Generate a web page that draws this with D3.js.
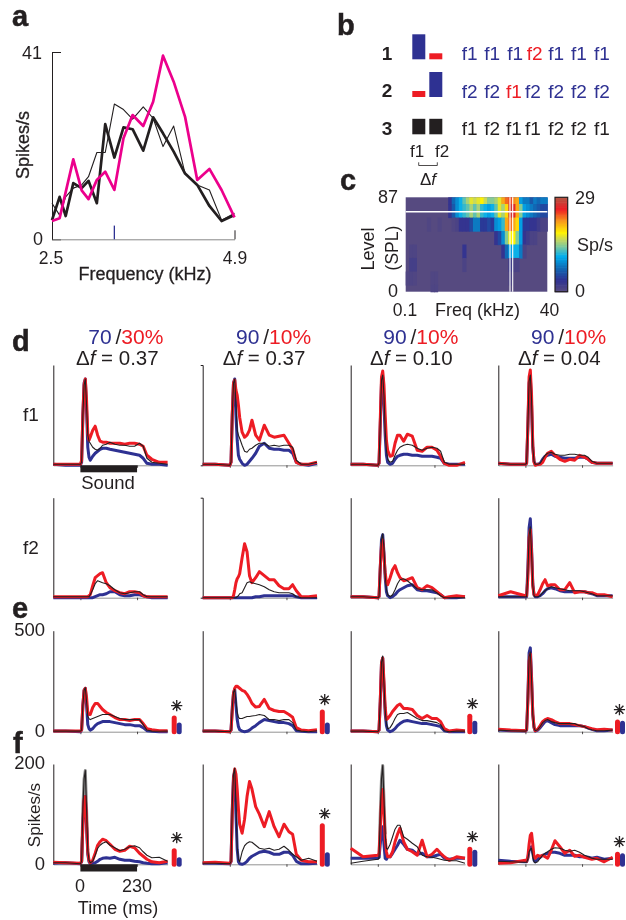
<!DOCTYPE html>
<html><head><meta charset="utf-8">
<script src="https://cdn.jsdelivr.net/npm/d3@7/dist/d3.min.js"></script>
<style>html,body{margin:0;padding:0;background:#fff}svg{display:block;filter:blur(.3px)}text{font-family:"Liberation Sans",Arial,sans-serif;fill:#231f20}</style>
</head><body><div id="c"></div>
<script>
// ---------- panel a ----------
const aPinkF=[2.5,2.6,2.78,2.89,2.98,3.09,3.2,3.32,3.44,3.56,3.7,3.83,3.96,4.1,4.25,4.41,4.57,4.73,4.9];
const aPinkV=[4,4.6,17.5,10.7,8.8,13,14.8,10.8,22.1,27.2,24.8,30.1,40.2,34.5,26.8,13,15.4,10.8,4.8];
const aBlackF=[2.5,2.6,2.68,2.78,2.89,2.98,3.09,3.2,3.32,3.44,3.56,3.7,3.83,3.96,4.1,4.25,4.41,4.57,4.73,4.9];
const aThickV=[4.2,9.3,5.1,12.3,11.2,12.8,7.9,25.2,17.9,24.5,24.1,19.4,26.7,23.2,19.2,14.4,11.9,7.3,4,5.3];
const aThinV=[7.9,5.3,9.3,11.2,11.9,13.7,19,19,29.6,28.4,26.3,29,26.5,20.3,24.8,14.4,11.9,10.8,4.2,5.7];
const aMark=3.32;
// ---------- panel b ----------
const bRows=["1","2","3"];
const bLevels=[[90,10],[10,90],[50,50]];
const bSeq=[["f1","f1","f1","f2","f1","f1","f1"],["f2","f2","f1","f2","f2","f2","f2"],["f1","f2","f1","f1","f2","f2","f1"]];
const bOdd=[3,2,-1];
// ---------- panel c ----------
const cLevels=[87,74.6,62.1,49.7,37.3,24.9,12.4,0];
const cRates=[
[0,0,0,0,0,0,0,0,0,0,0,0,3,7,9,11,13,15,17,16,17,18,16,14,14,15,17,21,23,24,22,21,10,8,8,6,8,7,8,8],
[0,0,0,0,0,0,0,0,0,0,0,0,3,6,9,11,12,13,15,13,15,12,11,10,11,13,17,15,19,27,26,21,14,10,9,8,7,6,5,5],
[0,0,0,0,0,0,.5,0,0,.5,0,0,0,.5,1,3,3,3,5,8,8,4,4,5,4,9,10,12,21,23,21,19,10,4,4,3,3,2,1,1],
[0,0,0,0,0,0,0,0,0,0,0,0,0,0,0,0,0,0,0,0,0,0,0,0,0,3,5,9,14,18,18,14,10,3,2,1,1,0,0,0],
[0,.7,.7,0,0,0,0,0,0,0,0,0,0,0,0,0,3,0,0,0,0,0,0,0,0,0,0,3,7,10,11,11,8,1,0,0,0,0,0,0],
[0,1.5,1.5,0,0,0,0,0,0,0,0,0,0,0,0,0,1,0,0,0,0,0,0,0,0,0,0,0,0,2,1,1,0,0,0,0,0,0,0,0],
[.5,.7,.5,0,0,0,0,.5,.5,0,0,0,0,0,0,0,0,0,0,0,0,0,0,0,0,0,0,0,0,1,0,0,0,0,0,0,0,0,0,0],
[0,0,0,0,0,0,0,.7,.7,0,0,0,0,0,0,0,0,0,0,0,0,0,0,0,0,0,0,0,0,0,0,0,0,0,0,0,0,0,0,0]];
const cMarkFreq=[8.25,9.25], cMarkLevel=73.7;
const cStops=["#564a80","#2e3192","#0f6cb6","#00aeef","#7ac8a0","#c8d85a","#fff200","#f7941d","#ed1c24","#b05a45"];
const cStopAt=[0,.12,.25,.37,.47,.55,.62,.75,.87,1];
// ---------- panels d, e, f : shared time grid (ms) ----------
const T=[-110,-60,0,5,10,15,20,25,30,35,40,50,60,70,80,90,105,120,140,160,180,200,220,240,255,270,290,320,354];
// d, f1 row (arbitrary units, 0-100)
const d11R=[1,1,1,5,50,80,86,65,32,25,28,35,39,30,24,23,23,22,22,22,21,22,22,21,19,10,6,3,3];
const d11B=[1,0,0,3,50,82,86,55,18,8,5,9,12,14,16,17,17,16,15,14,13,12,11,10,7,2,1,1,0];
const d11K=[1,1,1,3,50,80,86,60,30,24,22,18,16,15,17,20,21,23,21,20,20,19,19,22,19,7,3,2,1];
const d12R=[1,1,0,3,50,82,85,75,70,60,48,33,28,30,35,45,30,25,40,30,28,29,30,22,16,3,1,1,3];
const d12B=[1,1,0,3,50,82,86,50,25,10,6,2,0,1,4,7,12,19,22,17,16,16,15,15,12,3,1,0,2];
const d12K=[1,1,0,3,50,82,86,60,35,30,27,20,14,13,16,17,20,22,22,19,20,19,20,20,18,5,1,1,3];
const d13R=[1,1,0,2,45,88,94,80,50,25,15,9,10,22,30,30,24,31,29,15,14,18,18,15,9,2,0,0,3];
const d13B=[1,1,0,2,40,82,88,60,30,10,3,1,2,6,9,10,11,11,10,10,9,9,9,8,7,2,1,1,1];
const d13K=[1,1,0,2,42,85,90,70,35,15,6,3,4,10,15,18,20,21,20,17,15,17,18,17,14,3,1,1,1];
const d14R=[2,1,1,2,40,88,95,70,20,3,0,1,1,3,8,12,14,10,6,4,6,5,10,8,6,3,2,2,2];
const d14B=[2,1,1,2,38,82,88,60,18,4,1,1,2,6,9,10,11,9,8,7,7,7,8,8,6,3,2,2,2];
const d14K=[2,1,1,2,40,84,90,65,18,4,1,1,2,6,10,12,13,11,10,10,11,11,10,10,8,4,2,2,2];
// d, f2 row
const d21R=[1,1,1,1,1,1,1,1,1,2,3,12,20,22,24,25,15,10,7,5,4,6,6,5,2,1,1,1,1];
const d21B=[0,0,0,0,0,0,0,0,0,0,0,0,1,2,3,3,4,6,6,3,2,2,3,3,2,1,0,0,0];
const d21K=[1,1,1,1,1,1,1,1,1,1,3,8,14,17,16,15,14,12,8,5,4,5,6,6,3,1,1,1,1];
const d22R=[0,0,0,0,0,2,8,15,19,21,24,40,54,46,22,15,20,26,22,18,18,12,9,9,13,7,1,1,2];
const d22B=[0,0,0,0,0,0,0,0,0,0,0,0,0,0,0,0,1,1,2,2,2,2,2,2,2,1,0,0,0];
const d22K=[0,0,0,0,0,0,0,0,1,2,4,5,10,15,16,15,14,13,11,8,6,5,5,5,4,1,0,0,0];
const d23R=[1,1,0,1,30,52,58,42,25,15,13,20,28,32,25,20,17,18,20,10,8,12,10,6,3,0,1,2,1];
const d23B=[1,1,0,1,30,58,63,45,20,6,2,0,1,3,6,8,10,12,13,8,7,7,6,5,3,0,0,0,1];
const d23K=[1,1,0,1,32,58,64,50,22,8,3,1,3,8,14,18,19,17,13,9,8,8,8,5,2,0,0,0,0];
const d24R=[2,6,2,2,20,60,68,45,12,3,2,3,8,14,18,12,13,13,8,8,15,5,6,6,5,5,3,3,1];
const d24B=[1,1,1,1,30,70,79,50,14,3,1,1,2,4,7,9,10,9,7,6,6,6,6,6,5,4,2,2,2];
const d24K=[1,1,1,1,25,62,71,46,12,2,1,1,2,5,7,9,11,10,9,8,7,7,7,6,5,4,2,2,2];
// e row (spikes/s, 0-500)
const e1R=[3,3,3,10,130,205,215,170,95,85,85,120,140,140,125,110,95,85,70,60,60,55,60,60,40,15,10,5,5];
const e1B=[3,3,0,8,130,205,215,130,35,15,8,15,30,40,45,50,50,50,45,40,35,35,30,30,20,5,2,0,0];
const e1K=[3,3,3,8,130,205,218,150,75,65,60,65,70,75,80,85,85,85,75,65,60,60,60,60,35,8,3,2,3];
const e2R=[3,3,0,8,100,190,215,225,225,220,215,205,200,185,165,140,122,125,160,115,105,100,100,85,72,20,8,5,10];
const e2B=[3,3,0,8,120,190,210,130,60,25,10,3,0,2,8,18,30,45,60,55,50,45,45,40,30,5,2,0,0];
const e2K=[3,3,0,8,120,195,210,150,95,72,65,65,70,75,75,78,80,85,80,60,60,55,60,60,45,8,3,0,5];
const e3R=[3,3,0,8,150,340,365,250,120,60,65,80,100,115,130,137,115,115,110,80,65,80,65,65,50,15,3,8,5];
const e3B=[3,3,0,8,150,340,365,220,90,30,8,0,5,15,30,40,52,55,50,45,40,40,35,30,25,5,0,0,0];
const e3K=[3,3,0,8,150,345,375,240,105,40,15,20,40,65,85,90,90,95,80,65,55,55,50,45,35,5,0,3,3];
const e4R=[12,8,5,12,150,350,385,250,90,25,5,12,30,50,60,65,60,50,40,40,40,35,30,25,20,15,10,12,8];
const e4B=[8,5,3,8,170,390,415,270,85,20,3,8,20,35,50,55,45,35,30,30,30,30,30,25,18,12,5,5,8];
const e4K=[8,5,3,8,160,370,395,260,85,20,5,10,25,45,55,60,50,45,40,40,40,40,30,25,15,10,5,5,8];
// f row (spikes/s, 0-200)
const f1R=[4,3,2,6,80,130,135,85,25,8,3,8,22,38,45,50,47,40,30,26,28,36,33,22,16,10,5,3,6];
const f1B=[2,3,1,5,80,125,135,75,20,5,1,2,3,6,10,12,13,12,14,10,8,8,6,5,3,2,1,1,3];
const f1K=[3,3,1,6,110,170,187,110,28,8,3,6,18,32,38,42,45,38,33,27,30,35,37,33,25,18,13,14,6];
const f2R=[3,4,2,6,100,170,190,180,150,110,80,62,90,135,165,150,115,100,75,105,75,55,80,65,60,20,8,5,5];
const f2B=[2,2,1,5,110,175,185,100,30,5,1,0,2,6,12,16,20,24,26,24,20,20,24,24,18,6,1,1,2];
const f2K=[2,2,1,5,120,180,192,120,35,10,5,25,37,42,45,44,38,32,30,32,28,30,36,28,20,15,8,12,6];
const f3R=[32,15,18,20,70,130,149,100,50,25,15,15,25,45,60,72,45,30,25,18,48,15,20,30,22,15,8,15,12];
const f3B=[12,12,12,14,40,65,75,40,12,10,15,15,22,30,38,48,40,30,28,20,22,15,15,18,20,12,10,12,12];
const f3K=[2,6,10,12,100,170,197,130,60,32,30,40,55,70,78,78,55,50,42,35,18,15,14,12,10,8,7,7,2];
const f4R=[2,3,8,6,15,40,58,62,40,14,12,18,16,18,15,12,28,47,35,22,28,16,18,14,12,10,12,5,14];
const f4B=[8,6,5,5,12,28,33,35,22,8,5,10,14,18,20,22,24,24,22,18,18,18,15,15,14,12,14,10,12];
const f4K=[6,5,4,4,10,25,30,32,15,5,3,5,12,18,22,25,30,33,32,28,26,28,24,18,15,12,10,10,10];
// end-of-panel mean rate bars
const eBarR=[80,110,89,61], eBarB=[46,46,54,54];
const fBarR=[32,82,35,25], fBarB=[14,24,29,22];
// headers
const hdrBlue=["70","90","90","90"], hdrRed=["30%","10%","10%","10%"], hdrDelta=["0.37","0.37","0.10","0.04"];

// ---------- layout ----------
const RED="#ed1c24",BLUE="#2e3192",PINK="#ec008c",INK="#231f20";
const svg=d3.select("#c").append("svg").attr("width",626).attr("height",920);
function txt(x,y,s,o={}){const t=svg.append("text").attr("x",x).attr("y",y).text(s)
  .attr("font-size",o.size||17).attr("text-anchor",o.anchor||"start");
  if(o.fill)t.style("fill",o.fill); if(o.weight)t.attr("font-weight",o.weight);
  if(o.family)t.style("font-family",o.family); if(o.rot!=null)t.attr("transform",`rotate(${o.rot} ${x} ${y})`);
  if(o.stroke)t.style("stroke",o.stroke).style("stroke-width",o.sw||.3);
  return t;}
[["a",12,26],["b",337,35],["c",340,190],["d",12,351],["e",12,618],["f",13,753]].forEach(d=>
  txt(d[1],d[2],d[0],{size:29,weight:700,stroke:INK,sw:.5}));
function axisStyle(g,w=1){g.selectAll(".domain").attr("stroke",INK).attr("stroke-width",w);
  g.selectAll("line").attr("stroke",INK).attr("stroke-width",w);g.selectAll("text").remove();}

// panel a
{const x=d3.scaleLinear([2.5,4.9],[52,234.5]), y=d3.scaleLinear([0,41],[239.3,52]);
 svg.append("g").attr("transform","translate(52,0)").call(d3.axisLeft(y).tickValues([0,41]).tickSize(-9).tickSizeOuter(0)).call(axisStyle);
 svg.append("g").attr("transform","translate(0,239.3)").call(d3.axisBottom(x).tickValues([2.5,4.9]).tickSize(-9).tickSizeOuter(0)).call(g=>{axisStyle(g);g.select(".domain").attr("stroke","#888");});
 svg.append("line").attr("x1",x(aMark)).attr("x2",x(aMark)).attr("y1",y(0)).attr("y2",y(3)).attr("stroke",BLUE).attr("stroke-width",1.3);
 const line=d3.line().x(d=>x(d[0])).y(d=>y(d[1]));
 const draw=(f,v,c,w)=>svg.append("path").attr("d",line(d3.zip(f,v))).attr("fill","none").attr("stroke",c).attr("stroke-width",w).attr("stroke-linejoin","round");
 draw(aBlackF,aThinV,INK,1.1); draw(aBlackF,aThickV,INK,2.7); draw(aPinkF,aPinkV,PINK,2.7);
 txt(42,59,"41",{size:18,anchor:"end"}); txt(43,245,"0",{size:18,anchor:"end"});
 txt(51,264,"2.5",{size:17.5,anchor:"middle"}); txt(235,264,"4.9",{size:17.5,anchor:"middle"});
 txt(145,280,"Frequency (kHz)",{size:18,anchor:"middle",stroke:INK});
 txt(29,145,"Spikes/s",{size:18,anchor:"middle",rot:-90,stroke:INK});
}
// panel b
{const h=d3.scaleLinear([10,90],[6,25]);
 const base=[59.3,97,134.3], tb=[60,97.5,135];
 const xs=[[461.7,484.3,507.3,526.7,548.3,571,594],[461.7,484.3,506,525,548.3,571,594],[461.7,484.3,506,525,548.3,571,594]];
 bRows.forEach((r,i)=>{
  txt(387,base[i]+.3,r,{size:19,weight:700,anchor:"middle"});
  bLevels[i].forEach((l,j)=>svg.append("rect").attr("x",412.3+j*17).attr("width",13).attr("y",base[i]-h(l)).attr("height",h(l))
    .attr("fill",i==2?INK:(l>50?BLUE:RED)));
  bSeq[i].forEach((s,j)=>txt(xs[i][j],tb[i],s,{size:19,fill:i==2?INK:(j==bOdd[i]?RED:BLUE)}));
 });
 txt(410,157,"f1",{size:17}); txt(435,157,"f2",{size:17});
 svg.append("path").attr("d","M418.7,162.3V165.5H437.3V162.3").attr("fill","none").attr("stroke",INK).attr("stroke-width",.8);
 const t=txt(420,184.5,"Δ",{size:17}); t.append("tspan").text("f").attr("font-style","italic");
}
// panel c
{const xb=d3.scaleBand(d3.range(40),[405.7,547.3]);
 const xf=d3.scaleLog([.1,40],[405.7,547.3]);
 const y=d3.scaleLinear([0,87],[291.7,197.3]);
 const col=d3.scaleLinear(cStopAt.map(t=>t*29),cStops).clamp(true);
 const hs=(cLevels[0]-cLevels[1])/2;
 svg.append("rect").attr("x",405.7).attr("y",197.3).attr("width",141.6).attr("height",94.4).attr("fill",col(0));
 cRates.forEach((row,i)=>{const top=Math.min(87,cLevels[i]+hs),bot=Math.max(0,cLevels[i]-hs);
  svg.append("g").selectAll("rect").data(row).join("rect").attr("x",(d,j)=>xb(j)).attr("width",xb.bandwidth()+.6)
   .attr("y",y(top)).attr("height",y(bot)-y(top)+.6).attr("fill",d=>col(d)).style("display",d=>d?null:"none");});
 svg.append("line").attr("x1",405.7).attr("x2",547.3).attr("y1",y(cMarkLevel)).attr("y2",y(cMarkLevel)).attr("stroke","#fff").attr("stroke-width",1.4);
 cMarkFreq.forEach(f=>svg.append("line").attr("x1",xf(f)).attr("x2",xf(f)).attr("y1",197.3).attr("y2",291.7).attr("stroke","#fff").attr("stroke-width",1.1));
 const yb=d3.scaleLinear([0,29],[291.7,197.3]);
 svg.append("g").selectAll("rect").data(d3.range(0,29,.5)).join("rect").attr("x",555).attr("width",12.7)
  .attr("y",d=>yb(d+.5)).attr("height",yb(0)-yb(.5)+.6).attr("fill",d=>col(d));
 svg.append("rect").attr("x",555).attr("y",197.3).attr("width",12.7).attr("height",94.4).attr("fill","none").attr("stroke",INK).attr("stroke-width",1.2);
 txt(575,203.5,"29",{size:18}); txt(575,297,"0",{size:18}); txt(577,251,"Sp/s",{size:18});
 txt(398,203,"87",{size:18,anchor:"end"}); txt(398,297,"0",{size:18,anchor:"end"});
 txt(374,249,"Level",{size:18,anchor:"middle",rot:-90}); txt(398,248,"(SPL)",{size:17.5,anchor:"middle",rot:-90});
 txt(405,315.5,"0.1",{size:17.5,anchor:"middle"}); txt(477.5,315.5,"Freq (kHz)",{size:18,anchor:"middle"}); txt(549.5,315.5,"40",{size:17.5,anchor:"middle"});
}
// small PSTH panels
const colLeft=[53.3,202.7,350.7,498.3];
const barRed=[174.2,322.3,469.8,617.5], starX=[176.7,324.7,472.3,619.4];
const rows=[
 {top:365,base:465.3,max:100,s:[[d11B,d11R,d11K],[d12B,d12R,d12K],[d13B,d13R,d13K],[d14B,d14R,d14K]]},
 {top:497.7,base:597.7,max:100,s:[[d21B,d21R,d21K],[d22B,d22R,d22K],[d23B,d23R,d23K],[d24B,d24R,d24K]]},
 {top:630.7,base:731.7,max:500,s:[[e1B,e1R,e1K],[e2B,e2R,e2K],[e3B,e3R,e3K],[e4B,e4R,e4K]],bars:[eBarR,eBarB],star:[705,699,703.3,709]},
 {top:764,base:864.3,max:200,s:[[f1B,f1R,f1K],[f2B,f2R,f2K],[f3B,f3R,f3K],[f4B,f4R,f4K]],bars:[fBarR,fBarB],star:[837.7,813,836.7,841],halo:[0,2]}];
rows.forEach(r=>{
 const y=d3.scaleLinear([0,r.max],[r.base,r.top]);
 colLeft.forEach((L,c)=>{
  const x=d3.scaleLinear([-110,354],[L,L+114.3]);
  svg.append("g").attr("transform",`translate(0,${r.base})`).call(d3.axisBottom(x).tickValues([0,230]).tickSize(2.5).tickSizeOuter(0)).call(g=>{axisStyle(g,.8);g.select(".domain").attr("stroke","#777");});
  svg.append("g").attr("transform",`translate(${L},0)`).call(d3.axisLeft(y).tickValues([]).tickSizeOuter(c==1&&r.max==100?2:0)).call(g=>axisStyle(g,1));
  const line=d3.line().x((d,i)=>x(T[i])).y(d=>y(d));
  if(r.halo&&r.halo.includes(c)) svg.append("path")
    .attr("d",d3.line().defined((d,i)=>i>=3&&i<=8).x((d,i)=>x(T[i])).y(d=>y(d))(r.s[c][2]))
    .attr("fill","none").attr("stroke","#8a8a8a").attr("stroke-width",3).attr("stroke-linejoin","round");
  r.s[c].forEach((v,k)=>svg.append("path").attr("d",line(v)).attr("fill","none")
    .attr("stroke",[BLUE,RED,INK][k]).attr("stroke-width",[3,3,1.1][k]).attr("stroke-linejoin","round"));
  if(r.bars){
   [0,1].forEach(k=>svg.append("line").attr("x1",barRed[c]+k*5).attr("x2",barRed[c]+k*5).attr("y1",r.base).attr("y2",y(r.bars[k][c])+2.5)
     .attr("stroke",k?BLUE:RED).attr("stroke-width",5).attr("stroke-linecap","round"));
   txt(starX[c],r.star[c]+5.5,"✳",{size:14.5,anchor:"middle",family:'"DejaVu Sans"',stroke:INK,sw:.6});
  }
 });
});
// headers
const hdrX=[88.3,236,383.3,531], dX=[76,222.7,370,518];
hdrBlue.forEach((b,i)=>{
 const t=txt(hdrX[i],344,b,{size:21,fill:BLUE});
 t.append("tspan").text(" /").attr("dx",-2).style("fill",INK);
 t.append("tspan").text(hdrRed[i]).style("fill",RED);
 const d=txt(dX[i],365,"Δ",{size:20.5});
 d.append("tspan").text("f").attr("font-style","italic");
 d.append("tspan").text(" = "+hdrDelta[i]);
});
txt(23,420.7,"f1",{size:19}); txt(23,554.3,"f2",{size:19});
// sound bars
const x0=d3.scaleLinear([-110,354],[53.3,167.6]);
svg.append("rect").attr("x",x0(0)).attr("width",x0(230)-x0(0)).attr("y",465.3).attr("height",7).attr("fill",INK);
svg.append("rect").attr("x",x0(0)).attr("width",x0(230)-x0(0)).attr("y",864.3).attr("height",7.2).attr("fill",INK);
txt(108,489,"Sound",{size:18.5,anchor:"middle"});
txt(45,636,"500",{size:18.5,anchor:"end"}); txt(45,737,"0",{size:18.5,anchor:"end"});
txt(45,769,"200",{size:18.5,anchor:"end"}); txt(45,869.5,"0",{size:18.5,anchor:"end"});
txt(39.5,815,"Spikes/s",{size:17,anchor:"middle",rot:-90});
txt(80,891.5,"0",{size:18,anchor:"middle"}); txt(137,891.5,"230",{size:18,anchor:"middle"});
txt(118,914,"Time (ms)",{size:18,anchor:"middle"});
</script></body></html>
